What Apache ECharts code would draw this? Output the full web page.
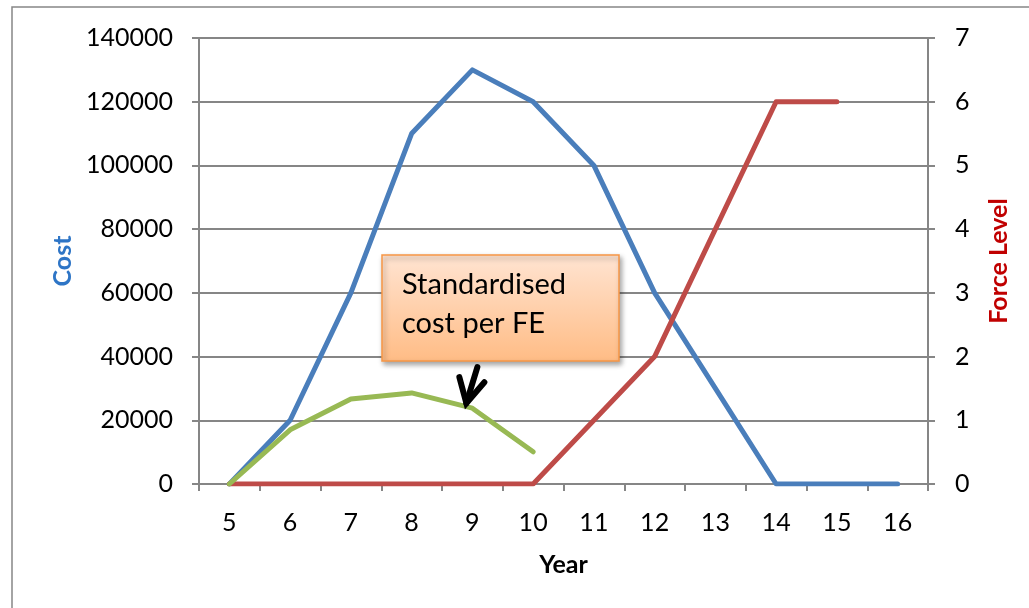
<!DOCTYPE html>
<html>
<head>
<meta charset="utf-8">
<script src="https://cdn.jsdelivr.net/npm/echarts@6/dist/echarts.min.js"></script>
<style>html,body{margin:0;padding:0;background:#fff;}#c{width:1029px;height:608px;}</style>
</head>
<body>
<div id="c"></div>
<script>
const years = ['5','6','7','8','9','10','11','12','13','14','15','16'];
const cost = [0, 20000, 60000, 110000, 130000, 120000, 100000, 60000, 30000, 0, 0, 0];
const forceLevel = [0, 0, 0, 0, 0, 0, 1, 2, 4, 6, 6, null];
const stdCostPerFE = [0, 17000, 26700, 28600, 23800, 10100, null, null, null, null, null, null];
const annotationText = 'Standardised\ncost per FE';

const FONT = 'Lato, "Open Sans", sans-serif';
const GRAY = '#868686';
const chart = echarts.init(document.getElementById('c'), null, {renderer: 'canvas'});

const lineSeries = (name, data, color, axis) => ({
  name, type: 'line', data, yAxisIndex: axis, showSymbol: false, symbol: 'none',
  lineStyle: {color, width: 5, cap: 'round', join: 'round'}, itemStyle: {color},
  animation: false, z: 3
});

chart.setOption({
  animation: false,
  backgroundColor: '#fff',
  grid: {left: 199, right: 101, top: 38, bottom: 124},
  xAxis: {
    type: 'category', data: years, boundaryGap: true,
    name: 'Year', nameLocation: 'middle', nameGap: 68,
    nameTextStyle: {fontFamily: FONT, fontWeight: 'bold', fontSize: 25, color: '#000'},
    axisLine: {lineStyle: {color: GRAY, width: 2}},
    axisTick: {show: true, length: 7, lineStyle: {color: GRAY, width: 2}},
    axisLabel: {fontFamily: FONT, fontSize: 25, color: '#000', margin: 26}
  },
  yAxis: [{
    type: 'value', min: 0, max: 140000, interval: 20000, position: 'left',
    name: 'Cost', nameLocation: 'middle', nameGap: 122, nameRotate: 90,
    nameTextStyle: {fontFamily: FONT, fontWeight: 'bold', fontSize: 25, color: '#2E75C6'},
    axisLine: {show: true, lineStyle: {color: GRAY, width: 2}},
    axisTick: {show: true, length: 7, lineStyle: {color: GRAY, width: 2}},
    axisLabel: {fontFamily: FONT, fontSize: 25, color: '#000', margin: 26,
                formatter: v => String(v)},
    splitLine: {show: true, lineStyle: {color: GRAY, width: 2}}
  }, {
    type: 'value', min: 0, max: 7, interval: 1, position: 'right',
    name: 'Force Level', nameLocation: 'middle', nameGap: 58, nameRotate: 90,
    nameTextStyle: {fontFamily: FONT, fontWeight: 'bold', fontSize: 25, color: '#C00000'},
    axisLine: {show: true, lineStyle: {color: GRAY, width: 2}},
    axisTick: {show: true, length: 7, lineStyle: {color: GRAY, width: 2}},
    axisLabel: {fontFamily: FONT, fontSize: 25, color: '#000', margin: 27},
    splitLine: {show: false}
  }],
  series: [
    lineSeries('Cost', cost, '#4A7EBB', 0),
    lineSeries('Force Level', forceLevel, '#BE4B48', 1),
    lineSeries('Standardised cost per FE', stdCostPerFE, '#98B954', 0)
  ]
});

// annotation anchored to the green series point at year 9
const tip = chart.convertToPixel({gridIndex: 0}, ['9', stdCostPerFE[4]]);
const tx = tip[0] - 6, ty = tip[1] - 5;
chart.setOption({
  graphic: [
    {type: 'rect', shape: {x: 12, y: 7, width: 1200, height: 800}, silent: true,
     style: {fill: null, stroke: GRAY, lineWidth: 1.5}, z: 0},
    {type: 'rect', shape: {x: 382, y: 255, width: 237, height: 106}, z: 10,
     style: {
       fill: new echarts.graphic.LinearGradient(0, 0, 0, 1, [
         {offset: 0, color: '#FFE4D2'}, {offset: 1, color: '#FFBC85'}]),
       stroke: '#F79646', lineWidth: 1.5,
       shadowBlur: 5, shadowOffsetX: 2, shadowOffsetY: 3, shadowColor: 'rgba(0,0,0,0.35)'
     }},
    {type: 'text', x: 402, y: 265, z: 11,
     style: {text: annotationText, fontFamily: FONT, fontSize: 29, fill: '#000', lineHeight: 39}},
    {type: 'polyline', z: 11, shape: {points: [[tx + 11, ty - 36], [tx, ty]]},
     style: {stroke: '#000', lineWidth: 6, lineCap: 'round'}},
    {type: 'polyline', z: 11, shape: {points: [[tx - 7, ty - 26], [tx, ty], [tx + 18, ty - 21]]},
     style: {stroke: '#000', lineWidth: 6, lineCap: 'round', lineJoin: 'miter', fill: null}}
  ]
});
</script>
</body>
</html>
